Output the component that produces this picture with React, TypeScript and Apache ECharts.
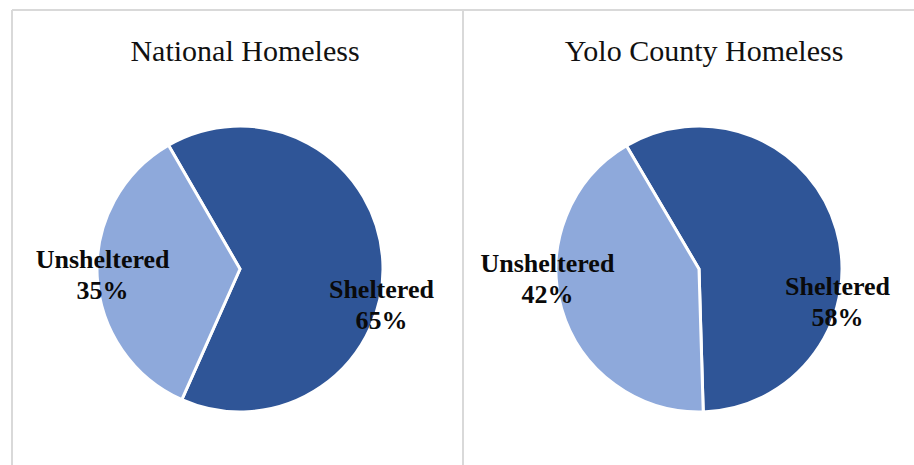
import React, { useEffect, useRef } from "react";
import * as echarts from "echarts";

const panelTitles = ["National Homeless", "Yolo County Homeless"];
const categories = ["Sheltered", "Unsheltered"];
const nationalValues = [65, 35];
const yoloValues = [58, 42];

const colors = ["#2F5597", "#8EA9DB"];
// label offsets (styling) per panel, per category
const labelOffsets = [
  [[67, 40], [-63, 2]],
  [[67, 54], [-80, -11]],
];
const centers = [[240, 269], [699, 269]];
const startAngles = [120, 120.5];

export default function App() {
  const ref = useRef<HTMLDivElement>(null);
  useEffect(() => {
    if (!ref.current) return;
    const chart = echarts.init(ref.current, null, { renderer: "svg" });
    const seriesValues = [nationalValues, yoloValues];
    const series = seriesValues.map((vals, si) => ({
      type: "pie",
      center: centers[si],
      radius: 143,
      startAngle: startAngles[si],
      clockwise: true,
      avoidLabelOverlap: false,
      itemStyle: { borderColor: "#ffffff", borderWidth: 3 },
      label: {
        show: true,
        position: "inside",
        formatter: "{b}\n{d}%",
        fontFamily: "Liberation Serif",
        fontWeight: "bold",
        fontSize: 26,
        lineHeight: 31,
        color: "#0a0a0a",
        align: "center",
      },
      labelLine: { show: false },
      labelLayout: (p: any) => ({
        dx: labelOffsets[si][p.dataIndex][0],
        dy: labelOffsets[si][p.dataIndex][1],
      }),
      emphasis: { disabled: true },
      data: vals.map((v, i) => ({
        name: categories[i],
        value: v,
        itemStyle: { color: colors[i] },
      })),
    }));
    chart.setOption({
      animation: false,
      backgroundColor: "#ffffff",
      title: panelTitles.map((t, i) => ({
        text: t,
        left: centers[i][0],
        textAlign: "center",
        top: 30,
        textStyle: {
          fontFamily: "Liberation Serif",
          fontWeight: "normal",
          fontSize: 30,
          color: "#111111",
        },
      })),
      graphic: [
        { type: "line", shape: { x1: 12, y1: 10, x2: 914, y2: 10 }, style: { stroke: "#D9D9D9", lineWidth: 2 } },
        { type: "line", shape: { x1: 12, y1: 10, x2: 12, y2: 465 }, style: { stroke: "#D9D9D9", lineWidth: 2 } },
        { type: "line", shape: { x1: 463, y1: 10, x2: 463, y2: 465 }, style: { stroke: "#D9D9D9", lineWidth: 2 } },
      ],
      series,
    });
    return () => chart.dispose();
  }, []);
  return (
    <div
      ref={ref}
      style={{ position: "fixed", left: 0, top: 0, width: 914, height: 465 }}
    />
  );
}
